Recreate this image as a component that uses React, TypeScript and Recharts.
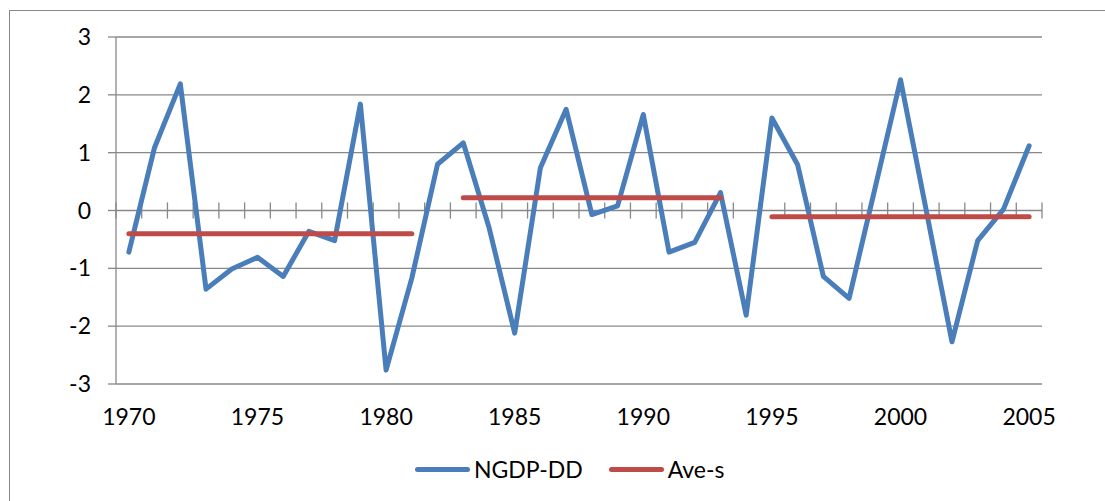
import { LineChart, Line, XAxis, YAxis, CartesianGrid, ReferenceLine } from 'recharts';

const years = [
  1970, 1971, 1972, 1973, 1974, 1975, 1976, 1977, 1978, 1979, 1980, 1981,
  1982, 1983, 1984, 1985, 1986, 1987, 1988, 1989, 1990, 1991, 1992, 1993,
  1994, 1995, 1996, 1997, 1998, 1999, 2000, 2001, 2002, 2003, 2004, 2005,
];

const ngdpDD = [
  -0.72, 1.09, 2.19, -1.36, -1.01, -0.81, -1.14, -0.36, -0.52, 1.84, -2.76, -1.17,
  0.8, 1.17, -0.29, -2.12, 0.74, 1.75, -0.07, 0.08, 1.66, -0.72, -0.55, 0.31,
  -1.81, 1.6, 0.79, -1.14, -1.52, 0.37, 2.26, 0.0, -2.27, -0.52, 0.02, 1.12,
];

const aveS = [
  -0.4, -0.4, -0.4, -0.4, -0.4, -0.4, -0.4, -0.4, -0.4, -0.4, -0.4, -0.4,
  null, 0.22, 0.22, 0.22, 0.22, 0.22, 0.22, 0.22, 0.22, 0.22, 0.22, 0.22,
  null, -0.11, -0.11, -0.11, -0.11, -0.11, -0.11, -0.11, -0.11, -0.11, -0.11, -0.11,
];

const yTicks = [-3, -2, -1, 0, 1, 2, 3];
const xLabelTicks = [1970, 1975, 1980, 1985, 1990, 1995, 2000, 2005];

const BLUE = '#4A7EBB';
const RED = '#BE4B48';
const GRID = '#888888';
const FONT = 'Lato, "Open Sans", sans-serif';

const data = years.map((year, i) => ({ year, ngdp: ngdpDD[i], ave: aveS[i] }));

// category boundaries, where the little cross ticks sit on the zero line
const boundaries = [...years.map(y => y - 0.5), years[years.length - 1] + 0.5];

export default function App() {
  return (
    <div style={{ position: 'absolute', left: 0, top: 0, width: 1105, height: 501, background: '#fff', overflow: 'hidden' }}>
      <div
        style={{
          position: 'absolute',
          left: 9,
          top: 10,
          width: 1120,
          height: 520,
          border: `1px solid ${GRID}`,
        }}
      />
      <LineChart
        width={1105}
        height={501}
        data={data}
        margin={{ top: 37, right: 63, bottom: 67, left: 0 }}
        style={{ position: 'absolute', left: 0, top: 0 }}
      >
        <CartesianGrid horizontal vertical={false} stroke={GRID} strokeWidth={1.3} />
        <XAxis
          type="number"
          dataKey="year"
          domain={[1969.5, 2005.5]}
          ticks={xLabelTicks}
          axisLine={false}
          tickLine={false}
          tickSize={0}
          tickMargin={25}
          height={50}
          tick={{ fill: '#000', fontSize: 23, fontFamily: FONT }}
        />
        <YAxis
          type="number"
          domain={[-3, 3]}
          ticks={yTicks}
          width={116}
          axisLine={{ stroke: GRID, strokeWidth: 1.3 }}
          tickLine={{ stroke: GRID, strokeWidth: 1.3 }}
          tickSize={8}
          tickMargin={17}
          tick={{ fill: '#000', fontSize: 23, fontFamily: FONT }}
        />
        {boundaries.map(b => (
          <ReferenceLine
            key={b}
            segment={[
              { x: b, y: -0.14 },
              { x: b, y: 0.14 },
            ]}
            stroke={GRID}
            strokeWidth={1.3}
          />
        ))}
        <Line
          type="linear"
          dataKey="ngdp"
          stroke={BLUE}
          strokeWidth={5}
          strokeLinejoin="round"
          strokeLinecap="round"
          dot={false}
          activeDot={false}
          isAnimationActive={false}
        />
        <Line
          type="linear"
          dataKey="ave"
          stroke={RED}
          strokeWidth={5}
          strokeLinecap="round"
          dot={false}
          activeDot={false}
          connectNulls={false}
          isAnimationActive={false}
        />
      </LineChart>

      {/* Legend */}
      <div
        style={{
          position: 'absolute',
          left: 415,
          top: 454,
          display: 'flex',
          alignItems: 'center',
          fontFamily: FONT,
          fontSize: 23,
          color: '#000',
          lineHeight: '30px',
        }}
      >
        {[
          { color: BLUE, label: 'NGDP-DD' },
          { color: RED, label: 'Ave-s' },
        ].map(({ color, label }, i) => (
          <div key={label} style={{ display: 'flex', alignItems: 'center', marginLeft: i === 0 ? 0 : 26 }}>
            <div style={{ width: 55, height: 5, borderRadius: 3, background: color, marginRight: 4 }} />
            <span>{label}</span>
          </div>
        ))}
      </div>
    </div>
  );
}
